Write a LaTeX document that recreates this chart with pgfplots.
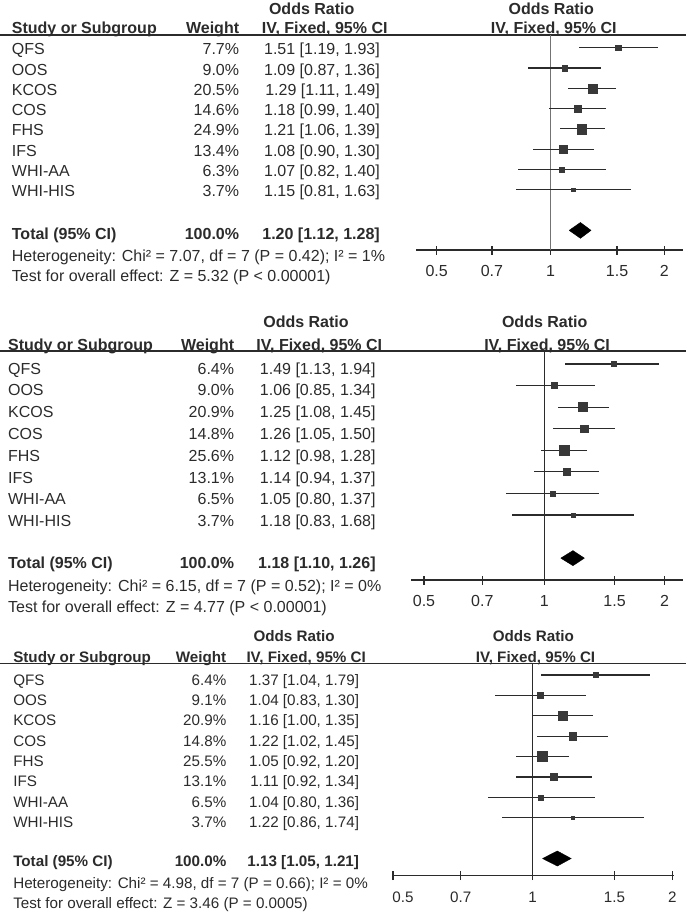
\documentclass[border=0pt]{standalone}
\usepackage{fontspec}
\setmainfont{Liberation Sans}
\usepackage{pgfplots}
\usepackage{pgfplotstable}
\pgfplotsset{compat=1.18}

\definecolor{txt}{HTML}{2B2B2B}
\definecolor{sq}{HTML}{383838}

% row  OR  lower  upper  weight
\pgfplotstableread{
row or lo hi w
1 1.51 1.19 1.93 7.7
2 1.09 0.87 1.36 9.0
3 1.29 1.11 1.49 20.5
4 1.18 0.99 1.40 14.6
5 1.21 1.06 1.39 24.9
6 1.08 0.90 1.30 13.4
7 1.07 0.82 1.40 6.3
8 1.15 0.81 1.63 3.7
}\dataA
\pgfplotstableread{
row or lo hi w
1 1.49 1.13 1.94 6.4
2 1.06 0.85 1.34 9.0
3 1.25 1.08 1.45 20.9
4 1.26 1.05 1.50 14.8
5 1.12 0.98 1.28 25.6
6 1.14 0.94 1.37 13.1
7 1.05 0.80 1.37 6.5
8 1.18 0.83 1.68 3.7
}\dataB
\pgfplotstableread{
row or lo hi w
1 1.37 1.04 1.79 6.4
2 1.04 0.83 1.30 9.1
3 1.16 1.00 1.35 20.9
4 1.22 1.02 1.45 14.8
5 1.05 0.92 1.20 25.5
6 1.11 0.92 1.34 13.1
7 1.04 0.80 1.36 6.5
8 1.22 0.86 1.74 3.7
}\dataC

\newcommand{\Row}[7]{%
  \node[anchor=base west,inner sep=0pt] at (#1,#4) {#5};
  \node[anchor=base east,inner sep=0pt] at (#2,#4) {#6};
  \node[anchor=base east,inner sep=0pt] at (#3,#4) {#7};}

\pgfplotsset{
  forest/.style={
    scale only axis, anchor=north west,
    axis x line*=bottom, axis y line=none,
    xtick={0.5,0.7,1,1.5,2}, minor xtick={},
    tick align=center, major tick length=9pt,
    tick style={txt, line width=1.2pt},
    axis line style={txt, line width=1.3pt},
    clip=false,
  },
  studies/.style={
    only marks, mark=square*, scatter,
    scatter/use mapped color={draw=sq, fill=sq},
    visualization depends on={0.975*sqrt(\thisrow{w}) \as \msize},
    scatter/@pre marker code/.append style={/tikz/mark size=\msize pt},
    error bars/x dir=both, error bars/x explicit, error bars/error mark=none,
    error bars/error bar style={line width=1.1pt, txt},
  },
}

\begin{document}
\begin{tikzpicture}
\path[use as bounding box] (0pt,0pt) rectangle (686pt,-912pt);

\begin{scope}[x=1pt,y=-1pt,every node/.style={text=txt}]
% ---------------- Panel 1 ----------------
\begin{scope}[font=\fontsize{16}{19}\selectfont]
\node[anchor=base,inner sep=0pt,font=\fontsize{16}{19}\selectfont\bfseries] at (311.7,14.3) {Odds Ratio};
\node[anchor=base,inner sep=0pt,font=\fontsize{16}{19}\selectfont\bfseries] at (551.3,14.3) {Odds Ratio};
\node[anchor=base west,inner sep=0pt,font=\fontsize{16}{19}\selectfont\bfseries] at (11.7,33.3) {Study or Subgroup};
\node[anchor=base east,inner sep=0pt,font=\fontsize{16}{19}\selectfont\bfseries] at (239.3,33.3) {Weight};
\node[anchor=base,inner sep=0pt,font=\fontsize{16}{19}\selectfont\bfseries] at (324.7,33.3) {IV, Fixed, 95\% CI};
\node[anchor=base,inner sep=0pt,font=\fontsize{16}{19}\selectfont\bfseries] at (553.8,33.3) {IV, Fixed, 95\% CI};
\draw[txt,line width=1.5pt] (0,35) -- (686,35);
\Row{11.7}{239.3}{380}{55}{QFS}{7.7\%}{1.51 [1.19, 1.93]}
\Row{11.7}{239.3}{380}{75.25}{OOS}{9.0\%}{1.09 [0.87, 1.36]}
\Row{11.7}{239.3}{380}{95.5}{KCOS}{20.5\%}{1.29 [1.11, 1.49]}
\Row{11.7}{239.3}{380}{115.75}{COS}{14.6\%}{1.18 [0.99, 1.40]}
\Row{11.7}{239.3}{380}{136}{FHS}{24.9\%}{1.21 [1.06, 1.39]}
\Row{11.7}{239.3}{380}{156.25}{IFS}{13.4\%}{1.08 [0.90, 1.30]}
\Row{11.7}{239.3}{380}{176.5}{WHI-AA}{6.3\%}{1.07 [0.82, 1.40]}
\Row{11.7}{239.3}{380}{196.75}{WHI-HIS}{3.7\%}{1.15 [0.81, 1.63]}
\begin{scope}[font=\fontsize{16}{19}\selectfont\bfseries]
\Row{11.7}{239.3}{380}{239.5}{Total (95\% CI)}{100.0\%}{1.20 [1.12, 1.28]}
\end{scope}
\node[anchor=base west,inner sep=0pt] at (11.7,261.5) {Heterogeneity: Chi² = 7.07, df = 7 (P = 0.42); I² = 1\%};
\node[anchor=base west,inner sep=0pt] at (11.7,281.5) {Test for overall effect: Z = 5.32 (P < 0.00001)};
\end{scope}

% ---------------- Panel 2 ----------------
\begin{scope}[font=\fontsize{16}{19}\selectfont]
\node[anchor=base,inner sep=0pt,font=\fontsize{16}{19}\selectfont\bfseries] at (306,327.7) {Odds Ratio};
\node[anchor=base,inner sep=0pt,font=\fontsize{16}{19}\selectfont\bfseries] at (544.7,327.7) {Odds Ratio};
\node[anchor=base west,inner sep=0pt,font=\fontsize{16}{19}\selectfont\bfseries] at (7.9,350) {Study or Subgroup};
\node[anchor=base east,inner sep=0pt,font=\fontsize{16}{19}\selectfont\bfseries] at (234.3,350) {Weight};
\node[anchor=base,inner sep=0pt,font=\fontsize{16}{19}\selectfont\bfseries] at (319.3,350) {IV, Fixed, 95\% CI};
\node[anchor=base,inner sep=0pt,font=\fontsize{16}{19}\selectfont\bfseries] at (547.1,350) {IV, Fixed, 95\% CI};
\draw[txt,line width=1.5pt] (0,351) -- (686,351);
\Row{7.9}{234.3}{375.8}{374}{QFS}{6.4\%}{1.49 [1.13, 1.94]}
\Row{7.9}{234.3}{375.8}{395.8}{OOS}{9.0\%}{1.06 [0.85, 1.34]}
\Row{7.9}{234.3}{375.8}{417.6}{KCOS}{20.9\%}{1.25 [1.08, 1.45]}
\Row{7.9}{234.3}{375.8}{439.4}{COS}{14.8\%}{1.26 [1.05, 1.50]}
\Row{7.9}{234.3}{375.8}{461.2}{FHS}{25.6\%}{1.12 [0.98, 1.28]}
\Row{7.9}{234.3}{375.8}{483}{IFS}{13.1\%}{1.14 [0.94, 1.37]}
\Row{7.9}{234.3}{375.8}{504.8}{WHI-AA}{6.5\%}{1.05 [0.80, 1.37]}
\Row{7.9}{234.3}{375.8}{526.6}{WHI-HIS}{3.7\%}{1.18 [0.83, 1.68]}
\begin{scope}[font=\fontsize{16}{19}\selectfont\bfseries]
\Row{7.9}{234.3}{375.8}{568.3}{Total (95\% CI)}{100.0\%}{1.18 [1.10, 1.26]}
\end{scope}
\node[anchor=base west,inner sep=0pt] at (7.9,591.7) {Heterogeneity: Chi² = 6.15, df = 7 (P = 0.52); I² = 0\%};
\node[anchor=base west,inner sep=0pt] at (7.9,612.7) {Test for overall effect: Z = 4.77 (P < 0.00001)};
\end{scope}

% ---------------- Panel 3 ----------------
\begin{scope}[font=\fontsize{15.2}{18}\selectfont]
\node[anchor=base,inner sep=0pt,font=\fontsize{15.2}{18}\selectfont\bfseries] at (294.1,641.7) {Odds Ratio};
\node[anchor=base,inner sep=0pt,font=\fontsize{15.2}{18}\selectfont\bfseries] at (533.3,641.7) {Odds Ratio};
\node[anchor=base west,inner sep=0pt,font=\fontsize{15.2}{18}\selectfont\bfseries] at (13.1,662.5) {Study or Subgroup};
\node[anchor=base east,inner sep=0pt,font=\fontsize{15.2}{18}\selectfont\bfseries] at (226.5,662.5) {Weight};
\node[anchor=base,inner sep=0pt,font=\fontsize{15.2}{18}\selectfont\bfseries] at (306.2,662.5) {IV, Fixed, 95\% CI};
\node[anchor=base,inner sep=0pt,font=\fontsize{15.2}{18}\selectfont\bfseries] at (535.5,662.5) {IV, Fixed, 95\% CI};
\draw[txt,line width=1.5pt] (0,663.3) -- (686,663.3);
\Row{13.1}{226.5}{359.2}{685}{QFS}{6.4\%}{1.37 [1.04, 1.79]}
\Row{13.1}{226.5}{359.2}{705.4}{OOS}{9.1\%}{1.04 [0.83, 1.30]}
\Row{13.1}{226.5}{359.2}{725.8}{KCOS}{20.9\%}{1.16 [1.00, 1.35]}
\Row{13.1}{226.5}{359.2}{746.2}{COS}{14.8\%}{1.22 [1.02, 1.45]}
\Row{13.1}{226.5}{359.2}{766.6}{FHS}{25.5\%}{1.05 [0.92, 1.20]}
\Row{13.1}{226.5}{359.2}{786.9}{IFS}{13.1\%}{1.11 [0.92, 1.34]}
\Row{13.1}{226.5}{359.2}{807.3}{WHI-AA}{6.5\%}{1.04 [0.80, 1.36]}
\Row{13.1}{226.5}{359.2}{827.7}{WHI-HIS}{3.7\%}{1.22 [0.86, 1.74]}
\begin{scope}[font=\fontsize{15.2}{18}\selectfont\bfseries]
\Row{13.1}{226.5}{359.2}{866.7}{Total (95\% CI)}{100.0\%}{1.13 [1.05, 1.21]}
\end{scope}
\node[anchor=base west,inner sep=0pt] at (13.1,888.7) {Heterogeneity: Chi² = 4.98, df = 7 (P = 0.66); I² = 0\%};
\node[anchor=base west,inner sep=0pt] at (13.1,908.7) {Test for overall effect: Z = 3.46 (P = 0.0005)};
\end{scope}
\end{scope}

% ---------------- Plot 1 ----------------
\begin{semilogxaxis}[forest, at={(416pt,-35pt)}, width=267pt, height=215pt,
  xmin=0.4408, xmax=2.241, ymin=-10.966, ymax=-0.3744,
  xticklabels={0.5,0.7,1,1.5,2},
  xticklabel style={anchor=base, yshift=-21.7pt, font=\fontsize{16}{19}\selectfont, text=txt}]
\addplot[gray!90!black, line width=1.8pt] coordinates {(1,-0.3744) (1,-10.966)};
\addplot[studies] table[x=or, y expr=-\thisrow{row},
  x error plus expr=\thisrow{hi}-\thisrow{or}, x error minus expr=\thisrow{or}-\thisrow{lo}] {\dataA};
\addplot[fill=black, draw=black] coordinates {(1.12,-10) (1.20,-9.61) (1.28,-10) (1.20,-10.39) (1.12,-10)};
\end{semilogxaxis}

% ---------------- Plot 2 ----------------
\begin{semilogxaxis}[forest, at={(411pt,-351pt)}, width=272pt, height=229pt,
  xmin=0.4639, xmax=2.225, ymin=-11.014, ymax=-0.3973,
  xticklabels={0.5,0.7,1,1.5,2},
  xticklabel style={anchor=base, yshift=-21.7pt, font=\fontsize{16}{19}\selectfont, text=txt}]
\addplot[txt, line width=1.2pt] coordinates {(1,-0.3973) (1,-11.014)};
\addplot[studies] table[x=or, y expr=-\thisrow{row},
  x error plus expr=\thisrow{hi}-\thisrow{or}, x error minus expr=\thisrow{or}-\thisrow{lo}] {\dataB};
\addplot[fill=black, draw=black] coordinates {(1.10,-10) (1.18,-9.65) (1.26,-10) (1.18,-10.35) (1.10,-10)};
\end{semilogxaxis}

% ---------------- Plot 3 ----------------
\begin{semilogxaxis}[forest, at={(393pt,-663.3pt)}, width=280.5pt, height=212.4pt,
  xmin=0.5, xmax=2.011, ymin=-10.843, ymax=-0.4262,
  xticklabels={\hspace*{20pt}0.5,0.7,1,1.5,2},
  xticklabel style={anchor=base, yshift=-22.6pt, font=\fontsize{15.2}{18}\selectfont, text=txt}]
\addplot[txt, line width=1.2pt] coordinates {(1,-0.4262) (1,-10.843)};
\addplot[studies] table[x=or, y expr=-\thisrow{row},
  x error plus expr=\thisrow{hi}-\thisrow{or}, x error minus expr=\thisrow{or}-\thisrow{lo}] {\dataC};
\addplot[fill=black, draw=black] coordinates {(1.05,-10) (1.13,-9.63) (1.21,-10) (1.13,-10.37) (1.05,-10)};
\end{semilogxaxis}
\end{tikzpicture}
\end{document}
